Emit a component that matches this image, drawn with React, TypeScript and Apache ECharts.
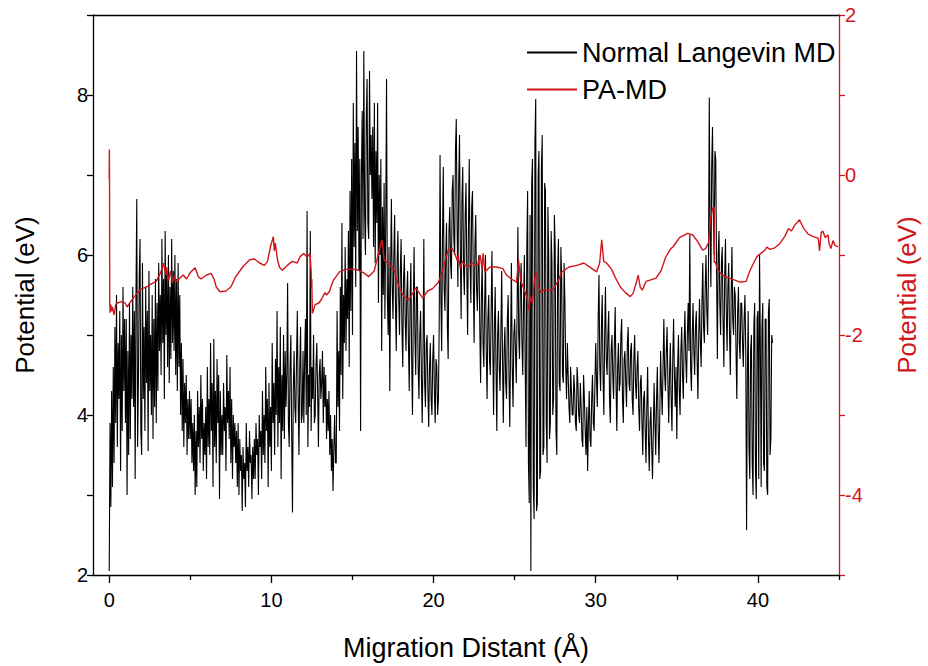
import React, { useEffect, useRef } from "react";
import * as echarts from "echarts";

const FONT = "'Liberation Sans', Arial, sans-serif";
const RED = "#d0161b";

// Normal Langevin MD: samples every 0.05 Å starting at 0 Å (one row = 1 Å)
const blackStep = 0.05;
const blackY = [
  2.05, 3.9, 2.85, 4.3, 3.1, 4.6, 3.4, 5.1, 3.9, 5.5, 3.6, 4.9, 4.2, 5.3, 3.3, 5.0, 3.8, 5.6, 4.3, 5.2,
  3.9, 5.2, 3.0, 4.8, 3.5, 5.4, 3.7, 5.0, 4.2, 5.6, 4.1, 5.3, 3.2, 5.5, 6.7, 3.6, 4.4, 5.7, 6.2, 3.8,
  3.5, 5.9, 4.2, 5.1, 3.8, 5.6, 4.4, 5.3, 3.55, 5.8, 4.3, 5.0, 4.0, 5.5, 3.7, 5.2, 4.1, 5.7, 3.9, 5.4,
  4.3, 5.9, 4.8, 5.5, 4.5, 6.2, 4.9, 5.7, 4.2, 6.3, 5.0, 5.8, 4.6, 6.0, 4.4, 5.6, 4.7, 6.2, 4.9, 5.8,
  4.8, 6.0, 4.5, 5.7, 4.3, 5.9, 4.6, 5.5, 4.0, 4.9, 3.8, 4.7, 3.6, 4.4, 3.9, 4.5, 3.5, 4.2, 3.7, 4.3,
  3.7, 4.2, 3.4, 3.9, 3.3, 4.0, 3.0, 3.8, 3.1, 4.3, 3.6, 4.1, 3.4, 4.5, 3.7, 4.2, 3.3, 3.9, 3.5, 4.1,
  3.2, 4.6, 3.6, 4.2, 3.5, 4.9, 3.8, 4.4, 3.1, 4.95, 3.6, 4.3, 3.4, 4.7, 3.9, 4.5, 2.95, 4.3, 3.5, 4.0,
  3.5, 4.4, 3.8, 4.1, 3.3, 4.75, 3.9, 4.3, 3.7, 4.6, 3.4, 4.2, 3.2, 4.0, 3.6, 3.9, 3.4, 3.8, 3.1, 3.9,
  3.0, 3.7, 3.3, 3.5, 2.8, 3.6, 3.2, 3.4, 2.85, 3.9, 3.3, 3.6, 3.1, 3.8, 3.4, 3.5, 2.95, 3.6, 3.2, 3.7,
  3.2, 3.9, 3.5, 3.7, 3.0, 4.0, 3.6, 3.8, 3.2, 4.3, 3.5, 4.0, 3.4, 4.6, 3.8, 4.2, 3.1, 4.4, 3.6, 4.1,
  3.3, 4.9, 3.9, 4.4, 3.5, 4.7, 4.0, 5.3, 3.6, 4.6, 3.9, 5.1, 3.2, 4.5, 3.8, 5.0, 3.7, 4.8, 4.1, 4.5,
  5.65, 3.9, 3.6, 4.6, 5.0, 3.8, 2.78, 4.3, 4.8, 4.1, 3.9, 4.7, 5.3, 4.2, 3.5, 4.6, 5.1, 3.9, 4.0, 4.8,
  3.9, 4.7, 5.2, 4.0, 6.55, 3.6, 4.5, 4.1, 6.3, 3.8, 4.6, 4.2, 5.0, 3.9, 4.0, 4.6, 4.9, 4.3, 3.6, 4.5,
  4.7, 4.2, 4.4, 4.8, 3.9, 4.6, 4.1, 4.5, 3.7, 4.2, 3.8, 4.3, 3.5, 4.0, 3.3, 3.7, 3.05, 3.6, 4.0, 3.4,
  3.4, 5.3, 4.1, 4.8, 3.8, 5.6, 4.5, 6.4, 4.2, 5.5, 4.9, 6.1, 4.8, 5.7, 5.2, 6.3, 4.6, 6.8, 5.3, 7.2,
  5.0, 7.9, 6.1, 7.4, 5.6, 8.55, 6.3, 7.6, 5.8, 7.2, 3.8, 7.0, 7.8, 6.2, 8.55, 6.5, 6.0, 7.7, 8.2, 6.4,
  6.2, 8.3, 7.0, 7.5, 6.7, 7.6, 6.1, 7.9, 5.9, 7.3, 6.4, 7.9, 5.4, 7.0, 6.0, 7.2, 4.8, 6.6, 5.5, 6.9,
  5.2, 6.4, 8.2, 5.5, 5.0, 6.1, 4.3, 5.8, 6.7, 5.6, 5.2, 6.0, 6.5, 5.4, 4.8, 5.9, 6.3, 5.5, 5.0, 5.8,
  6.2, 5.1, 4.6, 5.7, 6.0, 5.2, 4.8, 5.5, 5.8, 4.9, 4.3, 5.4, 5.9, 4.7, 4.0, 5.3, 6.1, 5.0, 4.5, 5.6,
  5.6, 4.6, 4.2, 5.0, 5.3, 4.5, 3.9, 4.8, 6.2, 4.4, 4.1, 4.9, 5.0, 4.3, 3.85, 4.6, 4.9, 4.2, 4.0, 4.7,
  5.0, 4.3, 3.9, 4.7, 4.6, 4.0, 4.2, 5.2, 7.25, 5.5, 4.8, 6.2, 7.1, 5.6, 5.3, 6.0, 6.4, 5.1, 4.7, 6.3,
  6.6, 5.9, 5.7, 6.8, 7.0, 6.2, 6.0, 7.3, 7.7, 6.4, 5.6, 6.9, 7.5, 6.1, 5.2, 6.7, 7.1, 5.8, 5.5, 6.5,
  6.9, 5.8, 5.0, 6.3, 7.2, 5.9, 5.4, 6.6, 6.8, 5.7, 4.9, 6.1, 6.5, 5.6, 5.3, 5.9, 6.0, 5.1, 4.4, 5.5,
  5.9, 4.9, 4.6, 5.4, 6.0, 4.8, 4.2, 5.2, 5.5, 4.7, 4.5, 5.3, 6.05, 4.9, 4.0, 5.1, 5.6, 4.6, 3.8, 5.0,
  5.3, 4.6, 4.3, 5.0, 5.8, 4.7, 3.9, 4.8, 5.1, 4.4, 4.2, 5.2, 5.5, 4.5, 3.85, 4.9, 5.9, 4.6, 4.1, 5.0,
  5.2, 4.8, 4.4, 5.3, 6.35, 5.0, 4.7, 5.6, 5.9, 4.9, 4.5, 5.4, 6.0, 4.6, 3.6, 6.1, 6.8, 3.4, 2.9, 6.5,
  2.05, 6.9, 7.2, 3.1, 2.7, 7.4, 7.95, 2.8, 2.9, 7.0, 7.3, 3.2, 3.3, 7.1, 7.5, 3.5, 3.6, 6.9, 6.8, 3.9,
  3.4, 6.6, 6.0, 3.7, 3.9, 6.3, 5.9, 4.0, 4.2, 6.5, 6.1, 3.8, 3.5, 5.8, 6.2, 4.4, 4.3, 6.1, 5.7, 4.5,
  4.4, 5.9, 5.4, 4.6, 4.2, 4.9, 4.5, 4.1, 3.9, 4.6, 4.3, 4.0, 4.0, 4.5, 4.3, 3.9, 3.8, 4.6, 4.4, 4.0,
  3.9, 4.4, 4.1, 3.7, 3.6, 4.5, 4.2, 3.8, 3.5, 4.1, 3.3, 3.9, 4.3, 3.7, 3.6, 4.2, 4.5, 3.9, 3.8, 4.4,
  4.9, 4.4, 4.1, 5.2, 5.75, 4.6, 4.3, 5.1, 5.5, 4.5, 4.0, 5.0, 5.6, 4.7, 4.5, 5.0, 5.3, 4.2, 3.9, 4.8,
  5.0, 4.5, 4.2, 4.9, 5.35, 4.4, 3.8, 4.6, 4.9, 4.3, 4.4, 5.0, 5.2, 4.2, 3.9, 4.7, 4.8, 4.4, 4.1, 4.9,
  5.1, 4.4, 4.3, 4.8, 4.9, 4.2, 4.0, 4.7, 5.0, 4.4, 4.2, 4.6, 4.8, 4.1, 3.8, 4.4, 4.5, 3.9, 3.5, 4.2,
  4.3, 3.8, 3.4, 4.1, 4.6, 3.7, 3.3, 3.9, 4.1, 3.6, 3.2, 3.8, 4.4, 3.9, 3.5, 4.2, 4.6, 3.8, 3.4, 4.0,
  4.8, 4.3, 4.0, 4.6, 5.2, 4.5, 4.3, 4.8, 5.1, 4.4, 3.9, 4.5, 4.9, 4.2, 3.8, 4.7, 5.2, 4.5, 4.1, 4.6,
  3.7, 4.6, 5.0, 4.3, 4.0, 4.8, 5.1, 4.5, 4.2, 4.9, 5.3, 4.7, 4.4, 5.0, 5.4, 4.8, 6.25, 4.6, 4.3, 5.0,
  5.4, 4.8, 4.5, 5.1, 5.3, 4.7, 4.2, 5.0, 5.45, 4.9, 4.6, 5.4, 5.9, 5.1, 4.9, 5.6, 6.0, 5.3, 5.0, 5.8,
  7.97, 6.3, 5.6, 7.1, 7.6, 6.5, 6.0, 7.3, 7.2, 5.8, 4.7, 6.0, 6.3, 5.4, 5.0, 5.9, 6.1, 5.2, 4.6, 5.7,
  6.2, 5.3, 4.8, 5.6, 5.9, 5.0, 4.5, 5.5, 6.1, 5.2, 5.0, 5.6, 5.5, 4.8, 4.2, 5.3, 5.6, 4.9, 4.7, 5.4,
  5.4, 4.9, 4.6, 5.2, 5.5, 4.8, 2.56, 4.5, 5.3, 3.6, 3.2, 4.8, 5.0, 3.4, 3.0, 5.1, 5.4, 3.3, 2.95, 5.2,
  5.3, 3.2, 6.0, 4.9, 3.1, 5.1, 5.4, 3.4, 3.3, 5.2, 5.2, 3.1, 3.0, 5.3, 5.45, 3.5, 3.7, 5.0, 4.9,
];

// PA-MD
const redX = [
  0.0, 0.01, 0.02, 0.03, 0.06, 0.1, 0.15, 0.2, 0.3, 0.4, 0.5, 0.8, 0.98, 1.1, 1.4, 1.7, 2.0, 2.3, 2.6, 2.9,
  3.17, 3.35, 3.48, 3.54, 3.66, 3.78, 3.9, 4.0, 4.15, 4.4, 4.57, 4.76, 5.0, 5.3, 5.49, 5.67, 6.0, 6.28, 6.46, 6.6,
  6.83, 7.2, 7.5, 7.8, 8.23, 8.66, 8.96, 9.27, 9.57, 9.76, 9.94, 10.12, 10.18, 10.24, 10.37, 10.49, 10.67, 10.98, 11.28, 11.59,
  11.77, 12.0, 12.2, 12.38, 12.45, 12.47, 12.49, 12.51, 12.53, 12.7, 12.93, 13.1, 13.3, 13.4, 13.6, 13.7, 13.84, 14.2, 14.6, 15.24,
  15.67, 16.0, 16.34, 16.65, 16.83, 16.95, 17.26, 17.56, 17.87, 18.17, 18.48, 18.66, 18.9, 19.1, 19.33, 19.63, 19.94, 20.3, 20.55, 20.73,
  20.9, 21.16, 21.34, 21.46, 21.52, 21.65, 21.77, 21.95, 22.13, 22.38, 22.56, 22.74, 22.87, 22.99, 23.05, 23.17, 23.48, 23.9, 24.27, 24.5,
  24.8, 25.12, 25.24, 25.37, 25.49, 25.67, 25.79, 25.85, 25.98, 26.1, 26.22, 26.34, 26.46, 26.65, 26.83, 27.13, 27.44, 27.74, 27.87, 28.35,
  28.84, 29.27, 29.7, 30.06, 30.24, 30.37, 30.49, 30.67, 30.98, 31.2, 31.52, 31.83, 32.13, 32.3, 32.5, 32.62, 32.74, 32.87, 33.1, 33.4,
  33.72, 34.02, 34.33, 34.63, 34.76, 35.18, 35.67, 35.98, 36.28, 36.59, 36.77, 36.95, 37.07, 37.2, 37.3, 37.31, 37.38, 37.5, 37.68, 37.8,
  37.99, 38.54, 38.9, 39.27, 39.5, 39.76, 39.94, 40.24, 40.43, 40.55, 40.73, 41.04, 41.34, 41.65, 41.89, 42.07, 42.26, 42.56, 42.8, 43.1,
  43.41, 43.72, 43.8, 43.9, 44.0, 44.15, 44.33, 44.39, 44.5, 44.63, 44.76, 44.94,
];
const redY = [
  -0.05, 0.32, -0.1, -1.6, -1.72, -1.62, -1.7, -1.65, -1.75, -1.62, -1.6, -1.58, -1.6, -1.65, -1.56, -1.48, -1.42, -1.4, -1.36, -1.33,
  -1.22, -1.1, -1.25, -1.15, -1.32, -1.2, -1.35, -1.27, -1.33, -1.28, -1.25, -1.3, -1.22, -1.16, -1.27, -1.3, -1.25, -1.23, -1.3, -1.4,
  -1.46, -1.45, -1.4, -1.27, -1.15, -1.06, -1.05, -1.1, -1.13, -1.08, -0.9, -0.77, -0.95, -0.85, -1.05, -1.15, -1.19, -1.13, -1.08, -1.1,
  -1.02, -0.98, -1.03, -0.98, -1.2, -1.4, -1.3, -1.55, -1.73, -1.62, -1.6, -1.55, -1.47, -1.5, -1.45, -1.38, -1.31, -1.21, -1.18, -1.18,
  -1.22, -1.27, -1.2, -0.94, -0.81, -1.06, -1.12, -1.18, -1.4, -1.52, -1.56, -1.5, -1.41, -1.47, -1.54, -1.45, -1.42, -1.34, -1.2, -1.06,
  -0.94, -0.92, -1.0, -1.07, -1.0, -1.17, -1.08, -1.13, -1.15, -1.1, -1.13, -1.12, -1.0, -1.17, -0.98, -1.21, -1.15, -1.15, -1.17, -1.25,
  -1.3, -1.34, -1.06, -1.32, -1.38, -1.48, -1.55, -1.69, -1.52, -1.6, -1.31, -1.22, -1.4, -1.47, -1.43, -1.45, -1.41, -1.3, -1.22, -1.15,
  -1.13, -1.1, -1.16, -1.21, -1.1, -0.81, -1.08, -1.1, -1.18, -1.28, -1.4, -1.47, -1.52, -1.48, -1.35, -1.25, -1.4, -1.44, -1.33, -1.31,
  -1.29, -1.2, -1.02, -0.92, -0.9, -0.78, -0.73, -0.75, -0.83, -0.94, -0.92, -0.85, -0.56, -0.42, -0.4, -1.09, -1.09, -1.18, -1.22, -1.25,
  -1.27, -1.31, -1.34, -1.33, -1.2, -1.09, -1.02, -0.97, -0.94, -0.9, -0.93, -0.91, -0.86, -0.77, -0.67, -0.7, -0.63, -0.56, -0.66, -0.74,
  -0.77, -0.79, -0.95, -0.72, -0.7, -0.78, -0.75, -0.86, -0.92, -0.82, -0.88, -0.9,
];

const xMajorTicks = [0, 10, 20, 30, 40];
const xMinorTicks = [5, 15, 25, 35, 45];

export default function App() {
  const ref = useRef<HTMLDivElement>(null);

  useEffect(() => {
    if (!ref.current) return;
    const chart = echarts.init(ref.current, null, { renderer: "svg" });
    const blackData = blackY.map((v, i) => [Number((i * blackStep).toFixed(2)), v]);
    const redData = redX.map((x, i) => [x, redY[i]]);
    const axisBlack = { color: "#000", width: 1.3 };
    const evenOnly = (v: number) => (Math.round(v) % 2 === 0 ? String(v) : "");

    chart.setOption({
      animation: false,
      backgroundColor: "#fff",
      grid: { left: 93, right: 80, top: 15, bottom: 91, containLabel: false },
      legend: {
        orient: "vertical",
        left: 522,
        top: 34,
        itemWidth: 50,
        itemHeight: 2,
        itemGap: 10,
        icon: "rect",
        textStyle: { fontSize: 27, color: "#000", fontFamily: FONT },
        data: ["Normal Langevin MD", "PA-MD"],
      },
      xAxis: [
        {
          type: "value",
          position: "bottom",
          min: -1,
          max: 45,
          axisLine: { show: true, onZero: false, lineStyle: axisBlack },
          axisTick: { show: true, customValues: xMajorTicks, length: 8, lineStyle: axisBlack },
          axisLabel: { customValues: xMajorTicks, fontSize: 20, color: "#000", margin: 15, fontFamily: FONT },
          splitLine: { show: false },
          name: "Migration Distant (Å)",
          nameLocation: "middle",
          nameGap: 59,
          nameTextStyle: { fontSize: 27, color: "#000", fontFamily: FONT },
        },
        {
          type: "value",
          position: "bottom",
          min: -1,
          max: 45,
          axisLine: { show: false, onZero: false },
          axisTick: { show: true, customValues: xMinorTicks, length: 5, lineStyle: axisBlack },
          axisLabel: { show: false },
          splitLine: { show: false },
        },
        {
          type: "value",
          position: "top",
          min: -1,
          max: 45,
          axisLine: { show: true, onZero: false, lineStyle: axisBlack },
          axisTick: { show: false },
          axisLabel: { show: false },
          splitLine: { show: false },
        },
      ],
      yAxis: [
        {
          type: "value",
          position: "left",
          min: 2,
          max: 9,
          interval: 1,
          axisLine: { show: true, onZero: false, lineStyle: axisBlack },
          axisTick: { show: true, length: 6, lineStyle: axisBlack },
          axisLabel: { formatter: evenOnly, fontSize: 20, color: "#000", margin: 5, fontFamily: FONT },
          splitLine: { show: false },
          name: "Potential (eV)",
          nameLocation: "middle",
          nameGap: 55,
          nameTextStyle: { fontSize: 26, color: "#000", fontFamily: FONT },
        },
        {
          type: "value",
          position: "right",
          min: -5,
          max: 2,
          interval: 1,
          axisLine: { show: true, onZero: false, lineStyle: { color: RED, width: 1.3 } },
          axisTick: { show: true, length: 6, lineStyle: { color: RED, width: 1.3 } },
          axisLabel: { formatter: evenOnly, fontSize: 20, color: RED, margin: 6, fontFamily: FONT },
          splitLine: { show: false },
          name: "Potential (eV)",
          nameLocation: "middle",
          nameGap: 55,
          nameTextStyle: { fontSize: 26, color: RED, fontFamily: FONT },
        },
      ],
      series: [
        {
          name: "Normal Langevin MD",
          type: "line",
          xAxisIndex: 0,
          yAxisIndex: 0,
          data: blackData,
          symbol: "none",
          color: "#000",
          lineStyle: { color: "#000", width: 1.1 },
        },
        {
          name: "PA-MD",
          type: "line",
          xAxisIndex: 0,
          yAxisIndex: 1,
          data: redData,
          symbol: "none",
          color: RED,
          lineStyle: { color: RED, width: 1.4 },
        },
      ],
    });
    return () => chart.dispose();
  }, []);

  return (
    <div
      ref={ref}
      style={{ position: "fixed", left: 0, top: 0, width: 928, height: 666, background: "#fff" }}
    />
  );
}
